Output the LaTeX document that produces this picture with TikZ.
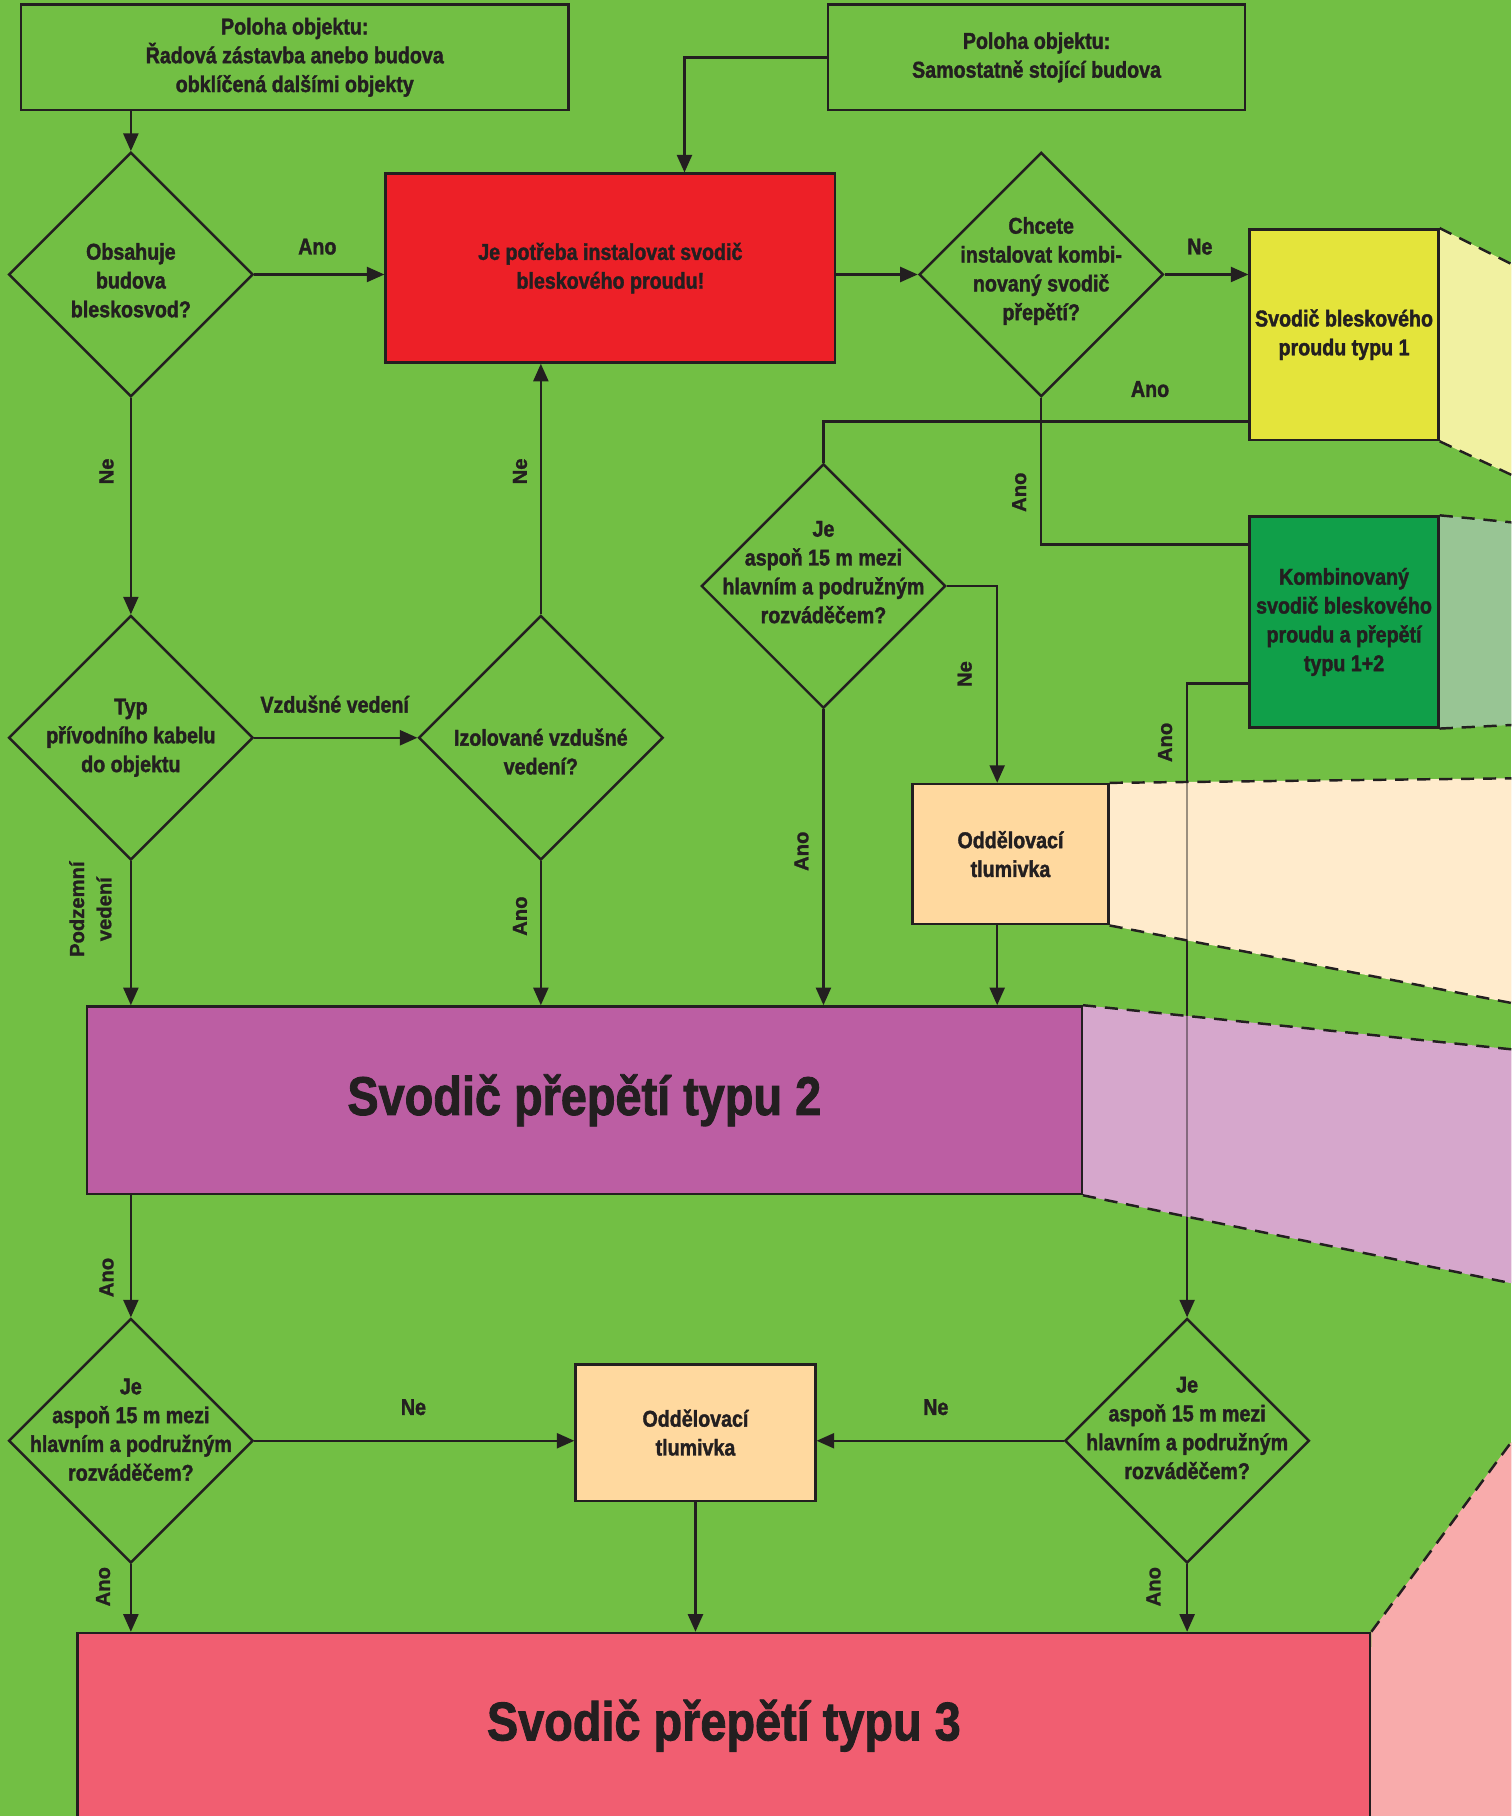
\documentclass[tikz,border=0pt]{standalone}
\usepackage{fontspec}
\setmainfont{Liberation Sans}
\newfontfamily\condfont[FakeStretch=0.86, FakeBold=1.6]{Liberation Sans}
\newfontfamily\heavyfont[FakeBold=1.2]{Liberation Sans}
\usetikzlibrary{arrows.meta, shapes.geometric, calc, backgrounds}
\definecolor{bgGreen}{HTML}{72BF44}
\definecolor{lineDark}{HTML}{231F20}
\definecolor{boxRed}{HTML}{ED2027}
\definecolor{boxYellow}{HTML}{E4E43B}
\definecolor{projYellow}{HTML}{F1F1A1}
\definecolor{boxDkGreen}{HTML}{109F49}
\definecolor{projGreen}{HTML}{98C594}
\definecolor{boxOrange}{HTML}{FFD99F}
\definecolor{projOrange}{HTML}{FFEBCC}
\definecolor{boxPurple}{HTML}{BC5EA3}
\definecolor{projPurple}{HTML}{D6A7CC}
\definecolor{boxPink}{HTML}{F15E71}
\definecolor{projPink}{HTML}{F8ABAB}
\newcommand{\upx}{0.02316cm}
\newcommand{\qfont}{\condfont\bfseries\fontsize{13}{16.4}\selectfont}
\newcommand{\vfont}{\heavyfont\bfseries\fontsize{11.5}{15.5}\selectfont}
\newcommand{\bigfont}{\condfont\bfseries\fontsize{31}{37}\selectfont}

\begin{document}
\begin{tikzpicture}[x=0.02316cm, y=-0.02316cm,
    box/.style={rectangle, draw=lineDark, line width=1.4pt, inner sep=0pt,
                font=\qfont, align=center, text=lineDark},
    dia/.style={diamond, draw=lineDark, line width=1.4pt, inner sep=0pt, aspect=1,
                minimum width=211*\upx, minimum height=211*\upx},
    qtext/.style={font=\qfont, align=center, text=lineDark, inner sep=0pt},
    hlab/.style={font=\qfont, text=lineDark, inner sep=0pt},
    vlab/.style={font=\vfont, text=lineDark, rotate=90, align=center, inner sep=0pt},
    arr/.style={-{Triangle[length=10pt,width=8.5pt]}, line width=1.4pt, draw=lineDark},
    link/.style={line width=1.4pt, draw=lineDark},
    projedge/.style={line width=1.4pt, draw=lineDark, dash pattern=on 7.5pt off 5pt},
  ]
    \useasboundingbox (0,0) rectangle (1305,1568);
    \clip (0,0) rectangle (1305,1568);

    % ─── Top: position of the object ───
    \node[box, minimum width=473*\upx, minimum height=91*\upx] (posRow) at (254.5,49.5)
      {Poloha objektu:\\Řadová zástavba anebo budova\\obklíčená dalšími objekty};
    \node[box, minimum width=360*\upx, minimum height=91*\upx] (posFree) at (895,49.5)
      {Poloha objektu:\\Samostatně stojící budova};

    % ─── Decisions ───
    \node[dia] (qRod) at (113,237) {};
    \node[qtext] (qRodTxt) at (113,242) {Obsahuje\\budova\\bleskosvod?};
    \node[box, fill=boxRed, minimum width=388*\upx, minimum height=163*\upx] (mustT1) at (527,231.5)
      {Je potřeba instalovat svodič\\bleskového proudu!};
    \node[dia] (qComb) at (899,237) {};
    \node[qtext] (qCombTxt) at (899,234) {Chcete\\instalovat kombi-\\novaný svodič\\přepětí?};
    \node[box, fill=boxYellow, minimum width=163*\upx, minimum height=182*\upx] (spd1) at (1160.5,289)
      {Svodič bleskového\\proudu typu 1};
    \node[box, fill=boxDkGreen, minimum width=163*\upx, minimum height=182*\upx] (spd12) at (1160.5,537)
      {Kombinovaný\\svodič bleskového\\proudu a přepětí\\typu 1+2};
    \node[dia] (qDistA) at (711,506) {};
    \node[qtext] (qDistATxt) at (711,494) {Je\\aspoň 15 m mezi\\hlavním a podružným\\rozváděčem?};
    \node[box, fill=boxOrange, minimum width=169*\upx, minimum height=121*\upx] (chokeA) at (872.5,737.5)
      {Oddělovací\\tlumivka};
    \node[dia] (qCable) at (113,637) {};
    \node[qtext] (qCableTxt) at (113,637) {Typ\\přívodního kabelu\\do objektu};
    \node[dia] (qIso) at (467,637) {};
    \node[qtext] (qIsoTxt) at (467,649) {Izolované vzdušné\\vedení?};

    % ─── Type 2 ───
    \node[box, fill=boxPurple, font=\bigfont, minimum width=859*\upx, minimum height=162*\upx] (spd2) at (504.5,950)
      {Svodič přepětí typu 2};

    % ─── Bottom decisions ───
    \node[dia] (qDistB) at (113,1244) {};
    \node[qtext] (qDistBTxt) at (113,1234.5) {Je\\aspoň 15 m mezi\\hlavním a podružným\\rozváděčem?};
    \node[box, fill=boxOrange, minimum width=207*\upx, minimum height=118*\upx] (chokeB) at (600.5,1237)
      {Oddělovací\\tlumivka};
    \node[dia] (qDistC) at (1025,1244) {};
    \node[qtext] (qDistCTxt) at (1025,1233) {Je\\aspoň 15 m mezi\\hlavním a podružným\\rozváděčem?};

    % ─── Type 3 ───
    \node[box, fill=boxPink, font=\bigfont, minimum width=1116*\upx, minimum height=160*\upx] (spd3) at (625,1490)
      {Svodič přepětí typu 3};

    % ─── Background: projections ───
    \begin{scope}[on background layer]
      \clip (0,0) rectangle (1305,1568);
      \fill[bgGreen] (0,0) rectangle (1305,1568);
      \draw[arr] ([yshift=-53*\upx]spd12.west) -| (qDistC.north);
      \fill[projYellow] (spd1.north east) -- (1305,228) -- (1305,410) -- (spd1.south east) -- cycle;
      \fill[projGreen] (spd12.north east) -- (1305,451) -- (1305,626) -- (spd12.south east) -- cycle;
      \fill[projOrange] (chokeA.north east) -- (1305,672) -- (1305,866) -- (chokeA.south east) -- cycle;
      \fill[projPurple] (spd2.north east) -- (1305,906) -- (1305,1108) -- (spd2.south east) -- cycle;
      \fill[projPink] (spd3.north east) -- (1305,1245) -- (1305,1568) -- (1183,1568) -- cycle;
      \draw[projedge] (spd1.north east) -- (1305,228);
      \draw[projedge] (spd1.south east) -- (1305,410);
      \draw[projedge] (spd12.north east) -- (1305,451);
      \draw[projedge] (spd12.south east) -- (1305,626);
      \draw[projedge] (chokeA.north east) -- (1305,672);
      \draw[projedge] (chokeA.south east) -- (1305,866);
      \draw[projedge] (spd2.north east) -- (1305,906);
      \draw[projedge] (spd2.south east) -- (1305,1108);
      \draw[projedge] (spd3.north east) -- (1305,1245);
      \draw[link, draw opacity=0.45] ([yshift=-53*\upx]spd12.west) -| ([yshift=30*\upx]qDistC.north);
    \end{scope}

    % ─── Connectors ───
    \draw[arr] (posRow.south -| qRod.north) -- (qRod.north);
    \draw[arr] (posFree.west) -| ([xshift=64*\upx]mustT1.north);
    \draw[arr] (qRod.east) -- (qRod.east -| mustT1.west);
    \draw[arr] (mustT1.east |- qComb.west) -- (qComb.west);
    \draw[arr] (qComb.east) -- (qComb.east -| spd1.west);
    \draw[link] (qComb.south) |- ([yshift=67*\upx]spd12.west);
    \draw[link] ([yshift=-75*\upx]spd1.west) -| (qDistA.north);
    \draw[arr] (qDistA.east) -| ([xshift=-11.5*\upx]chokeA.north);
    \draw[arr] (qDistA.south) -- (qDistA.south |- spd2.north);
    \draw[arr] ([xshift=-11.5*\upx]chokeA.south) -- ([xshift=-11.5*\upx]chokeA.south |- spd2.north);
    \draw[arr] (qRod.south) -- (qCable.north);
    \draw[arr] (qCable.east) -- (qIso.west);
    \draw[arr] (qIso.north) -- (qIso.north |- mustT1.south);
    \draw[arr] (qCable.south) -- (qCable.south |- spd2.north);
    \draw[arr] (qIso.south) -- (qIso.south |- spd2.north);
    \draw[arr] (spd2.south -| qDistB.north) -- (qDistB.north);
    \draw[arr] (qDistB.east) -- (qDistB.east -| chokeB.west);
    \draw[arr] (qDistC.west) -- (qDistC.west -| chokeB.east);
    \draw[arr] (qDistB.south) -- (qDistB.south |- spd3.north);
    \draw[arr] (chokeB.south) -- (chokeB.south |- spd3.north);
    \draw[arr] (qDistC.south) -- (qDistC.south |- spd3.north);

    % ─── Labels ───
    \node[hlab] (lRodYes) at (274,213) {Ano};
    \node[hlab] (lCombNo) at (1036,213) {Ne};
    \node[hlab] (lT1Yes) at (993,336) {Ano};
    \node[hlab] (lAir) at (289,608) {Vzdušné vedení};
    \node[hlab] (lDistBNo) at (357,1215) {Ne};
    \node[hlab] (lDistCNo) at (808,1215) {Ne};
    \node[vlab] (lRodNo) at (92,407) {Ne};
    \node[vlab] (lIsoNo) at (449,407) {Ne};
    \node[vlab] (lCombYes) at (880,425) {Ano};
    \node[vlab] (lDistANo) at (833,582) {Ne};
    \node[vlab] (lDistAYes) at (692,735) {Ano};
    \node[vlab] (lT12Yes) at (1006,641) {Ano};
    \node[vlab] (lUnder) at (78,785) {Podzemní\\vedení};
    \node[vlab] (lIsoYes) at (449,791) {Ano};
    \node[vlab] (lT2Yes) at (92,1103) {Ano};
    \node[vlab] (lDistBYes) at (89,1370) {Ano};
    \node[vlab] (lDistCYes) at (996,1370) {Ano};
  \end{tikzpicture}
\end{document}
